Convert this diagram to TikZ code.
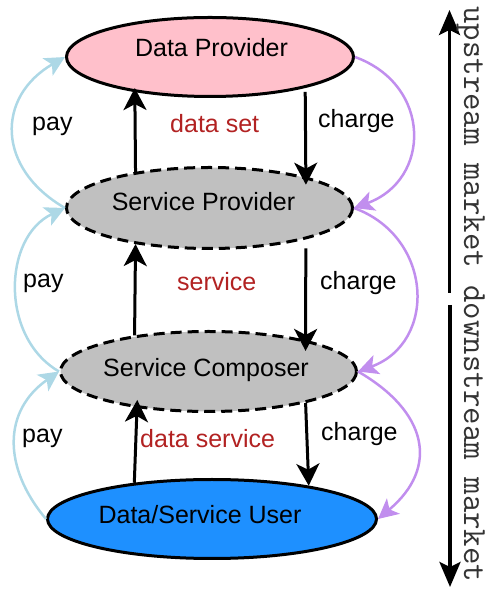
\documentclass[tikz,border=0pt]{standalone}
\usepackage{fontspec}
\setmainfont{Liberation Sans}
\usetikzlibrary{arrows.meta,shapes.geometric}
\definecolor{paycol}{HTML}{ADD8E6}
\definecolor{chargecol}{HTML}{C18EEE}
\definecolor{flowcol}{HTML}{B22222}
\definecolor{dpfill}{HTML}{FFC0CB}
\definecolor{spfill}{HTML}{C0C0C0}
\definecolor{usfill}{HTML}{1E90FF}
\begin{document}
\begin{tikzpicture}[x=1pt,y=1pt,
  party/.style={ellipse, draw=black, line width=3pt, inner sep=0pt},
  broker/.style={party, dash pattern=on 11pt off 6pt, fill=spfill},
  ptext/.style={anchor=base, inner sep=0pt, font=\fontsize{25}{30}\selectfont},
  lbl/.style={anchor=base west, inner sep=0pt, font=\fontsize{25}{30}\selectfont},
  flow/.style={lbl, text=flowcol},
  goods/.style={line width=3pt, -{Stealth[length=22pt,width=23pt,inset=6pt]}},
  pay/.style={draw=paycol, line width=2.5pt, -{Stealth[length=20pt,width=20pt,inset=5pt]}},
  charge/.style={pay, draw=chargecol},
  market/.style={line width=3.5pt, -{Stealth[length=25pt,width=21pt,inset=5pt]}},
]
\useasboundingbox (0,0) rectangle (488,594);

% the four market participants
\node[party, fill=dpfill, minimum width=287pt, minimum height=79pt] (dp) at (210,537) {};
\node[broker, minimum width=286pt, minimum height=81pt] (sp) at (209.5,386) {};
\node[broker, minimum width=296pt, minimum height=80pt] (sc) at (208.5,222.5) {};
\node[party, fill=usfill, minimum width=329pt, minimum height=79pt] (us) at (212,75) {};

\node[ptext] (dpT) at (211.5,537) {Data Provider};
\node[ptext] (spT) at (203.5,383.3) {Service Provider};
\node[ptext] (scT) at (206,217.3) {Service Composer};
\node[ptext] (usT) at (200,70) {Data/Service User};

% goods flowing up, money flowing down
\draw[goods, shorten >=-4pt] (sp.154) -- (dp.205);
\draw[goods, shorten <=4pt, shorten >=-8pt] (dp.342) -- (sp.18);
\draw[goods] (sc.154) -- (sp.206);
\draw[goods, shorten <=9pt, shorten >=-11pt] (sp.342) -- (sc.18);
\draw[goods, shorten >=-8pt] (us.155) -- (sc.207);
\draw[goods] (sc.342) -- (us.19);

% payments on the left, charges on the right
\draw[pay] (sp.west) to[out=150,in=210,looseness=1.35] (dp.west);
\draw[pay] (sc.west) to[out=150,in=205,looseness=1.07] (sp.west);
\draw[pay] (us.west) to[out=130,in=215,looseness=1.18] (sc.west);
\draw[charge] (dp.east) to[out=-20,in=20,looseness=1.39] (sp.east);
\draw[charge] (sp.east) to[out=-20,in=20,looseness=1.32] (sc.east);
\draw[charge] (sc.east) to[out=-30,in=40,looseness=1.38] (us.east);

% labels
\node[lbl] (pay1) at (32,463) {pay};
\node[lbl] (pay2) at (23,306) {pay};
\node[lbl] (pay3) at (22,151) {pay};
\node[flow] (f1) at (170,461) {data set};
\node[flow] (f2) at (177,303) {service};
\node[flow] (f3) at (140,146) {data service};
\node[lbl] (c1) at (318,466) {charge};
\node[lbl] (c2) at (320,304) {charge};
\node[lbl] (c3) at (321,153) {charge};

% market direction on the right
\coordinate (upTail) at (449.5,301);
\coordinate (upHead) at (449.5,584);
\coordinate (downTail) at (450,289);
\coordinate (downHead) at (450,7);
\draw[market] (upTail) -- (upHead);
\draw[market] (downTail) -- (downHead);
\node[rotate=-90, anchor=base west, inner sep=0pt, text=black!80] (mk) at (464,588)
  {\fontsize{33.9}{34}\ttfamily upstream market downstream market};
\end{tikzpicture}
\end{document}
